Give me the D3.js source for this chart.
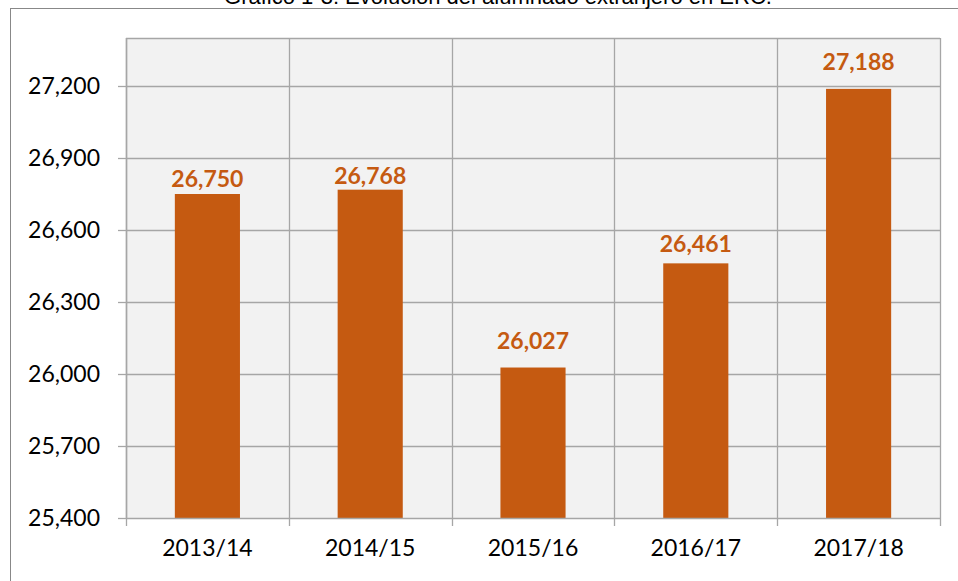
<!DOCTYPE html>
<html>
<head>
<meta charset="utf-8">
<script src="https://cdn.jsdelivr.net/npm/d3@7"></script>
<style>
  body { margin: 0; background: #fff; }
  svg { display: block; }
  .tick text { font-family: Lato, "Noto Sans", sans-serif; font-size: 23px; fill: #000; }
  .valuelabel { font-family: Lato, "Noto Sans", sans-serif; font-size: 23px; font-weight: bold; fill: #c55a11; }
  .title { font-family: "Liberation Sans", Arial, sans-serif; font-size: 22px; fill: #000; }
</style>
</head>
<body>
<div id="chart"></div>
<script>
var categories = ["2013/14", "2014/15", "2015/16", "2016/17", "2017/18"];
var values = [26750, 26768, 26027, 26461, 27188];
var yTicks = [25400, 25700, 26000, 26300, 26600, 26900, 27200];
var yGrid = [25700, 26000, 26300, 26600, 26900, 27200, 27400];
var titleText = "Gráfico 1-3: Evolución del alumnado extranjero en ERC.";

var fullwidth = 958;
var fullheight = 581;
var margin = { top: 38, right: 18, bottom: 63, left: 126 };
var width = fullwidth - margin.left - margin.right;
var height = fullheight - margin.top - margin.bottom;

// gap between bar top and label baseline, as placed in the original
var labelGap = [7, 6, 19, 11, 19];

var root = d3.select("#chart")
  .append("svg")
  .attr("width", fullwidth)
  .attr("height", fullheight);

// chart frame (partly outside the picture)
root.append("rect")
  .attr("x", 10.5)
  .attr("y", 8.5)
  .attr("width", 1000)
  .attr("height", 1000)
  .attr("fill", "none")
  .attr("stroke", "#888");

root.append("text")
  .attr("class", "title")
  .attr("x", 498)
  .attr("y", 4)
  .attr("text-anchor", "middle")
  .text(titleText);

var svg = root.append("g")
  .attr("transform", "translate(" + margin.left + "," + margin.top + ")");

var xScale = d3.scaleBand()
  .domain(categories)
  .range([0, width])
  .paddingInner(0.6)
  .paddingOuter(0.3);

var xBounds = d3.scaleLinear()
  .domain([0, categories.length])
  .range([0, width]);

var yScale = d3.scaleLinear()
  .domain([25400, 27400])
  .range([height, 0]);

svg.append("rect")
  .attr("width", width)
  .attr("height", height)
  .attr("fill", "#f2f2f2");

// horizontal gridlines
svg.selectAll("line.hgrid")
  .data(yGrid)
  .enter()
  .append("line")
  .attr("class", "hgrid")
  .attr("x1", 0)
  .attr("x2", width)
  .attr("y1", function(d) { return Math.round(yScale(d)) + 0.5; })
  .attr("y2", function(d) { return Math.round(yScale(d)) + 0.5; })
  .attr("stroke", "#a6a6a6")
  .attr("stroke-width", 1.3);

// vertical gridlines at category boundaries
svg.selectAll("line.vgrid")
  .data(d3.range(categories.length + 1))
  .enter()
  .append("line")
  .attr("class", "vgrid")
  .attr("x1", function(d) { return Math.round(xBounds(d)) + 0.5; })
  .attr("x2", function(d) { return Math.round(xBounds(d)) + 0.5; })
  .attr("y1", 0)
  .attr("y2", height + 8)
  .attr("stroke", "#a6a6a6")
  .attr("stroke-width", 1.3);

svg.selectAll("rect.bar")
  .data(values)
  .enter()
  .append("rect")
  .attr("class", "bar")
  .attr("x", function(d, i) { return xScale(categories[i]); })
  .attr("width", xScale.bandwidth())
  .attr("y", function(d) { return yScale(d); })
  .attr("height", function(d) { return height - yScale(d); })
  .attr("fill", "#c55a11");

svg.selectAll("text.valuelabel")
  .data(values)
  .enter()
  .append("text")
  .attr("class", "valuelabel")
  .attr("x", function(d, i) { return xScale(categories[i]) + xScale.bandwidth() / 2; })
  .attr("y", function(d, i) { return yScale(d) - labelGap[i]; })
  .attr("text-anchor", "middle")
  .text(function(d) { return d3.format(",")(d); });

var yAxis = d3.axisLeft(yScale)
  .tickValues(yTicks)
  .tickSize(8)
  .tickPadding(18)
  .tickFormat(d3.format(","));

var gy = svg.append("g").call(yAxis);
gy.select(".domain").remove();
gy.selectAll(".tick line").attr("stroke", "#a6a6a6").attr("stroke-width", 1.3);

var xAxis = d3.axisBottom(xScale)
  .tickSize(0)
  .tickPadding(22);

var gx = svg.append("g")
  .attr("transform", "translate(0," + height + ")")
  .call(xAxis);
gx.select(".domain").remove();
gx.selectAll(".tick line").remove();

// axis lines on top
svg.append("line")
  .attr("x1", 0).attr("x2", width)
  .attr("y1", height + 0.5).attr("y2", height + 0.5)
  .attr("stroke", "#a6a6a6").attr("stroke-width", 1.5);
svg.append("line")
  .attr("x1", 0.5).attr("x2", 0.5)
  .attr("y1", 0).attr("y2", height)
  .attr("stroke", "#a6a6a6").attr("stroke-width", 1.5);
</script>
</body>
</html>
